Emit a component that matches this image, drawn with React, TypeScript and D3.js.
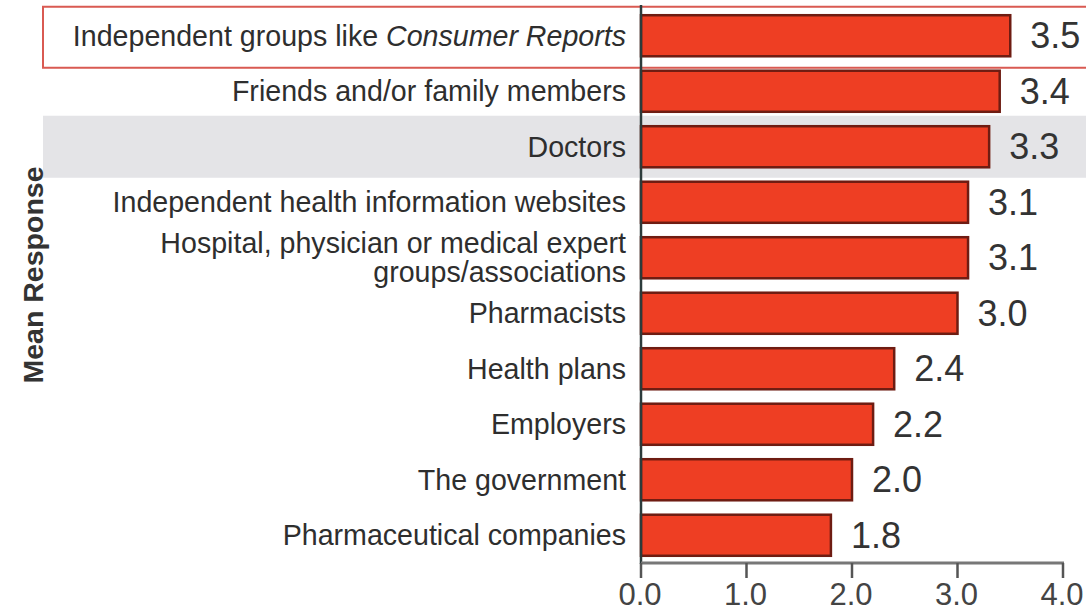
import React from "react";
import * as d3 from "d3";

const categories = [
  "Independent groups like Consumer Reports",
  "Friends and/or family members",
  "Doctors",
  "Independent health information websites",
  "Hospital, physician or medical expert\ngroups/associations",
  "Pharmacists",
  "Health plans",
  "Employers",
  "The government",
  "Pharmaceutical companies",
];
const values = [3.5, 3.4, 3.3, 3.1, 3.1, 3.0, 2.4, 2.2, 2.0, 1.8];
const tickValues = [0, 1, 2, 3, 4];
const italicPhrase = "Consumer Reports";
const highlightedBox = "Independent groups like Consumer Reports";
const highlightedBand = "Doctors";
const axisTitle = "Mean Response";

const W = 1086;
const H = 609;
const FONT = "'Liberation Sans', Arial, Helvetica, sans-serif";

export default function App() {
  const x = d3.scaleLinear().domain([0, 4]).range([641, 1063]);
  const y = d3
    .scaleBand<string>()
    .domain(categories)
    .range([8, 563])
    .paddingInner(0.26)
    .paddingOuter(0.13);
  const fmt = d3.format(".1f");

  const renderLabel = (c: string) => {
    const lines = c.split("\n");
    const cy = (y(c) as number) + y.bandwidth() / 2;
    const lh = 29;
    return lines.map((ln, i) => {
      const yy = cy + (i - (lines.length - 1) / 2) * lh;
      const idx = ln.indexOf(italicPhrase);
      return (
        <text
          key={i}
          x={626}
          y={yy}
          textAnchor="end"
          dominantBaseline="central"
          fontSize={28.6}
          fill="#2e2e2e"
          fontFamily={FONT}
        >
          {idx >= 0 ? (
            <>
              <tspan>{ln.slice(0, idx)}</tspan>
              <tspan fontStyle="italic">{italicPhrase}</tspan>
              <tspan>{ln.slice(idx + italicPhrase.length)}</tspan>
            </>
          ) : (
            ln
          )}
        </text>
      );
    });
  };

  const bandTop = (y(highlightedBand) as number) + y.bandwidth() / 2 - 31;
  const boxTop = (y(highlightedBox) as number) + y.bandwidth() / 2 - 29;

  return (
    <svg
      width={W}
      height={H}
      style={{ position: "absolute", left: 0, top: 0, background: "#fff" }}
    >
      <rect x={0} y={0} width={W} height={H} fill="#fff" />
      {/* gray band */}
      <rect x={43} y={bandTop} width={W} height={62} fill="#e4e4e7" />
      {/* highlight box */}
      <rect
        x={43}
        y={boxTop}
        width={W}
        height={61}
        fill="none"
        stroke="#d95a52"
        strokeWidth={2}
      />
      {/* y axis title */}
      <text
        transform={`translate(33, 275) rotate(-90)`}
        textAnchor="middle"
        dominantBaseline="central"
        fontSize={28.5}
        fontWeight="bold"
        fill="#333"
        fontFamily={FONT}
      >
        {axisTitle}
      </text>
      {/* category labels */}
      {categories.map((c) => (
        <g key={c}>{renderLabel(c)}</g>
      ))}
      {/* bars */}
      {categories.map((c, i) => (
        <rect
          key={c}
          x={x(0)}
          y={y(c) as number}
          width={x(values[i]) - x(0)}
          height={y.bandwidth()}
          fill="#ee3e23"
          stroke="#6e1c12"
          strokeWidth={2.5}
        />
      ))}
      {/* value labels */}
      {categories.map((c, i) => (
        <text
          key={c}
          x={x(values[i]) + 20}
          y={(y(c) as number) + y.bandwidth() / 2}
          dominantBaseline="central"
          fontSize={36}
          fill="#333"
          fontFamily={FONT}
        >
          {fmt(values[i])}
        </text>
      ))}
      {/* vertical axis */}
      <line x1={641} x2={641} y1={5} y2={564} stroke="#2c3b3b" strokeWidth={2.5} />
      {/* horizontal axis */}
      <line x1={641} x2={x(4) + 1} y1={563} y2={563} stroke="#777" strokeWidth={3} />
      {tickValues.map((t) => (
        <g key={t}>
          <line x1={x(t)} x2={x(t)} y1={563} y2={578} stroke="#555" strokeWidth={2.5} />
          <text
            x={x(t) - 1}
            y={605}
            textAnchor="middle"
            fontSize={31}
            fill="#444"
            fontFamily={FONT}
          >
            {fmt(t)}
          </text>
        </g>
      ))}
    </svg>
  );
}
